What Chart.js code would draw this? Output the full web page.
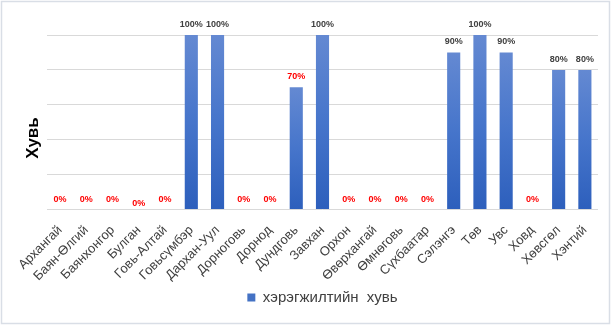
<!DOCTYPE html>
<html>
<head>
<meta charset="utf-8">
<script src="https://cdn.jsdelivr.net/npm/chart.js@4.4.1/dist/chart.umd.min.js"></script>
<style>
    html, body { margin: 0; padding: 0; background: #fff; }
    #wrap { position: relative; width: 611px; height: 325px; }
</style>
</head>
<body>
<div id="wrap"><canvas id="chart"></canvas></div>
<script>
// aimag names along the x axis
const aimags = [
    'Архангай', 'Баян-Өлгий', 'Баянхонгор', 'Булган', 'Говь-Алтай', 'Говьсүмбэр',
    'Дархан-Уул', 'Дорноговь', 'Дорнод', 'Дундговь', 'Завхан', 'Орхон',
    'Өвөрхангай', 'Өмнөговь', 'Сүхбаатар', 'Сэлэнгэ', 'Төв', 'Увс', 'Ховд',
    'Хөвсгөл', 'Хэнтий'
];
// implementation share, percent
const percents = [0, 0, 0, 0, 0, 100, 100, 0, 0, 70, 100, 0, 0, 0, 0, 90, 100, 90, 0, 80, 80];
const seriesName = 'хэрэгжилтийн  хувь';
const yTitle = 'Хувь';

const FONT = "'Liberation Sans', Arial, sans-serif";

// per-bar vertical gradient, light at the top, darker at the base
const barFill = (ctx) => {
    const chart = ctx.chart;
    const area = chart.chartArea;
    if (!area) return '#4472c4';
    const y = chart.scales.y;
    const top = y.getPixelForValue(ctx.raw || 0);
    const bottom = y.getPixelForValue(0);
    if (bottom - top < 1) return '#2f62bd';
    const g = chart.ctx.createLinearGradient(0, top, 0, bottom);
    g.addColorStop(0, '#6489d2');
    g.addColorStop(0.5, '#4675cb');
    g.addColorStop(1, '#2d5fbc');
    return g;
};

// thin frame around the whole chart
const framePlugin = {
    id: 'frame',
    beforeDraw(chart) {
        const c = chart.ctx;
        c.save();
        c.fillStyle = '#fff';
        c.fillRect(0, 0, chart.width, chart.height);
        c.strokeStyle = '#d9dee6';
        c.lineWidth = 1.5;
        c.strokeRect(1.5, 1.5, chart.width - 3, chart.height - 3);
        c.restore();
    }
};

// vertical axis caption, sits a bit below the middle of the plot
const axisCaption = {
    id: 'axisCaption',
    afterDraw(chart) {
        const c = chart.ctx;
        const area = chart.chartArea;
        c.save();
        c.translate(33, area.top + (area.bottom - area.top) * 0.59);
        c.rotate(-Math.PI / 2);
        c.font = 'bold 17px ' + FONT;
        c.fillStyle = '#000';
        c.textAlign = 'center';
        c.textBaseline = 'middle';
        c.fillText(yTitle, 0, 0);
        c.restore();
    }
};

// value labels above each bar; low values shown in red
const valueLabels = {
    id: 'valueLabels',
    afterDatasetsDraw(chart) {
        const c = chart.ctx;
        const meta = chart.getDatasetMeta(0);
        c.save();
        c.font = 'bold 9px ' + FONT;
        c.textAlign = 'center';
        c.textBaseline = 'middle';
        meta.data.forEach((bar, i) => {
            const v = percents[i];
            c.fillStyle = v < 80 ? '#ff0000' : '#404040';
            let y = bar.y - 10.5;
            if (aimags[i] === 'Булган') y += 4;
            c.fillText(v + '%', bar.x, y);
        });
        c.restore();
    }
};

new Chart(document.getElementById('chart').getContext('2d'), {
    type: 'bar',
    data: {
        labels: aimags,
        datasets: [{
            label: seriesName,
            data: percents,
            backgroundColor: barFill,
            categoryPercentage: 1,
            barPercentage: 0.5,
        }]
    },
    options: {
        responsive: true,
        maintainAspectRatio: false,
        animation: false,
        layout: { padding: { top: 35, right: 13, bottom: 10, left: 0 } },
        plugins: {
            tooltip: { enabled: false },
            legend: {
                position: 'bottom',
                fullSize: false,
                labels: {
                    font: { family: FONT, size: 15 },
                    color: '#404040',
                    boxWidth: 8,
                    boxHeight: 8,
                    padding: 1,
                    generateLabels: () => [{
                        text: seriesName,
                        fillStyle: '#4472c4',
                        strokeStyle: '#4472c4',
                        lineWidth: 0,
                        fontColor: '#404040'
                    }]
                }
            }
        },
        scales: {
            x: {
                grid: { display: false },
                border: { display: false },
                ticks: {
                    autoSkip: false,
                    maxRotation: 45,
                    minRotation: 45,
                    padding: 5,
                    color: '#404040',
                    font: { family: FONT, size: 13 }
                }
            },
            y: {
                min: 0,
                max: 100,
                ticks: { display: false, stepSize: 20 },
                grid: { color: '#d9d9d9', drawTicks: false, lineWidth: 1 },
                border: { display: false },
                afterFit: (scale) => { scale.width = 47; }
            }
        }
    },
    plugins: [framePlugin, valueLabels, axisCaption]
});
</script>
</body>
</html>
